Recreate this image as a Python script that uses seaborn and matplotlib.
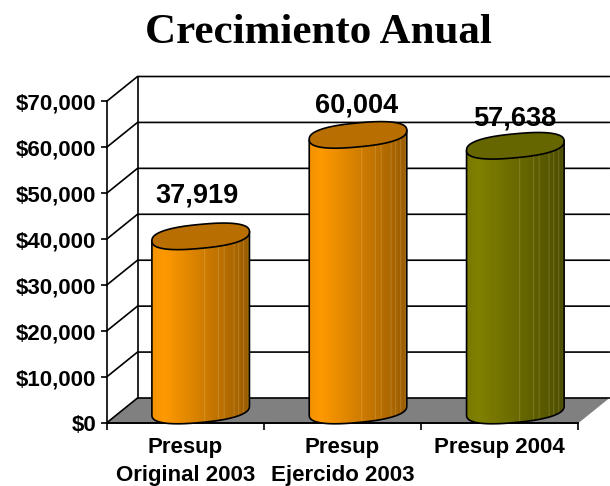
import numpy as np
import pandas as pd
import matplotlib
matplotlib.use("Agg")
import matplotlib.pyplot as plt
from matplotlib.path import Path
from matplotlib.patches import PathPatch, Polygon
from matplotlib.colors import to_rgb
import seaborn as sns

categories = ["Presup\nOriginal 2003", "Presup\nEjercido 2003", "Presup 2004"]
values = [37919, 60004, 57638]
value_labels = ["37,919", "60,004", "57,638"]
colors = ["#FF9900", "#FF9900", "#808000"]
top_colors = ["#B86E00", "#B86E00", "#666600"]
y_ticks = [0, 10000, 20000, 30000, 40000, 50000, 60000, 70000]
title = "Crecimiento Anual"

sns.set_theme(style="white")
plt.rcParams["font.family"] = ["Liberation Sans", "DejaVu Sans"]

W, H = 610, 486
fig = plt.figure(figsize=(W / 100, H / 100), dpi=100, facecolor="white")
L, R, T, B = 106.5, 578.5, 101.5, 423.0
ax = fig.add_axes([L / W, 1 - B / H, (R - L) / W, (B - T) / H], facecolor="none")

df = pd.DataFrame({"cat": categories, "val": values})
sns.barplot(data=df, x="cat", y="val", hue="cat", palette=colors, legend=False,
            width=0.62, ax=ax, saturation=1, zorder=3)
ax.set_xlim(-0.5, 2.5)
ax.set_ylim(0, 70000)
ax.set_xlabel("")
ax.set_ylabel("")

px_x = 3.0 / (R - L)
px_y = 70000.0 / (B - T)
DX, DY = 31 * px_x, 25 * px_y
xl, xr = -0.5, 2.5
LW = 1.2

# floor
ax.add_patch(Polygon([(xl, 0), (xl + DX, DY), (xr + DX, DY), (xr, 0)], closed=True,
                     facecolor="#808080", edgecolor="none", clip_on=False, zorder=1))
# walls and gridlines
for v in y_ticks:
    ax.plot([xl, xl + DX, xr + DX], [v, v + DY, v + DY], color="black", lw=LW,
            clip_on=False, zorder=2, solid_joinstyle="miter")
ax.plot([xl + DX, xl + DX], [DY, 70000 + DY], color="black", lw=LW, clip_on=False, zorder=2)

# cylinders
seams = [0.54, 0.68, 0.74, 0.84, 0.89, 0.94, 0.985]
b_el, s_el = 12 * px_y, 4.5 * px_y
n = 256
xs = np.linspace(0, 1, n)
shade = np.interp(xs, [0, 0.12, 1], [0.95, 1.0, 0.6])


def spow(arr, p=0.82):
    return np.sign(arr) * np.abs(arr) ** p


tt = np.linspace(np.pi, 2 * np.pi, 80)
tfull = np.linspace(0, 2 * np.pi, 200)
for bar, col, tcol in zip(ax.patches, colors, top_colors):
    bar.set_xy((bar.get_x() + DX / 2, DY / 2))
    x0, w, h = bar.get_x(), bar.get_width(), bar.get_height()
    cx, a = x0 + w / 2, w / 2
    y_top, y_bot = h + DY / 2, DY / 2
    bx = cx + a * spow(np.cos(tt))
    by = y_bot + s_el * spow(np.cos(tt)) + b_el * spow(np.sin(tt))
    body = np.vstack([
        [[x0, y_top - s_el]],
        np.column_stack([bx, by]),
        [[x0 + w, y_top + s_el]],
        [[x0, y_top - s_el]],
    ])
    rgb = np.array(to_rgb(col))
    img = (shade[:, None] * rgb)
    for s in seams:
        k = int(s * (n - 1))
        img[k] = img[k] * 0.55 + np.array([1, 0.95, 0.8]) * 0.45
    img = img[None, :, :]
    patch = PathPatch(Path(body), facecolor="none", edgecolor="black", lw=LW,
                      clip_on=False, zorder=5)
    ax.add_patch(patch)
    clip = PathPatch(Path(body), transform=ax.transData, facecolor="none", edgecolor="none")
    im = ax.imshow(img, extent=[x0, x0 + w, y_bot - 2 * b_el, y_top + 2 * b_el], aspect="auto",
                   zorder=4, interpolation="bilinear", clip_on=True)
    im.set_clip_path(clip)
    top = np.column_stack([cx + a * spow(np.cos(tfull)),
                           y_top + s_el * spow(np.cos(tfull)) + b_el * spow(np.sin(tfull))])
    ax.add_patch(Polygon(top, closed=True, facecolor=tcol, edgecolor="black", lw=LW,
                         clip_on=False, zorder=6))
    bar.set_visible(False)

ax.set_xlim(-0.5, 2.5)
ax.set_ylim(0, 70000)

# value labels
label_offsets = [(12, 53), (14, 42), (15, 40)]
for i, (v, s, off) in enumerate(zip(values, value_labels, label_offsets)):
    ax.annotate(s, (i, v), xytext=off, textcoords="offset pixels", ha="center", va="center",
                fontsize=19.5, fontweight="bold", color="black", zorder=8, annotation_clip=False)

# axes furniture
sns.despine(ax=ax, top=True, right=True)
ax.spines["left"].set_color("black")
ax.spines["bottom"].set_color("black")
ax.spines["left"].set_linewidth(LW)
ax.spines["bottom"].set_linewidth(1.4)
ax.spines["left"].set_zorder(2)
ax.set_yticks(y_ticks)
ax.set_yticklabels([f"${v:,.0f}" for v in y_ticks], fontsize=16, fontweight="bold", color="black")
ax.set_xticks([-0.5, 0.5, 1.5, 2.5])
ax.set_xticklabels([])
ax.set_xticks([0, 1, 2], minor=True)
ax.set_xticklabels(categories, minor=True, fontsize=16, fontweight="bold", color="black",
                   linespacing=1.42, va="top")
ax.tick_params(axis="y", which="major", length=4.5, width=LW, color="black", left=True, pad=3)
ax.tick_params(axis="x", which="major", length=5, width=LW, color="black", bottom=True)
ax.tick_params(axis="x", which="minor", length=0, pad=10)

fig.text(318.5 / W, 1 - 33 / H, title, ha="center", va="center", fontsize=31, fontweight="bold",
         family=["Liberation Serif", "DejaVu Serif"], color="black")

fig.savefig("out.png", dpi=100, facecolor="white")
